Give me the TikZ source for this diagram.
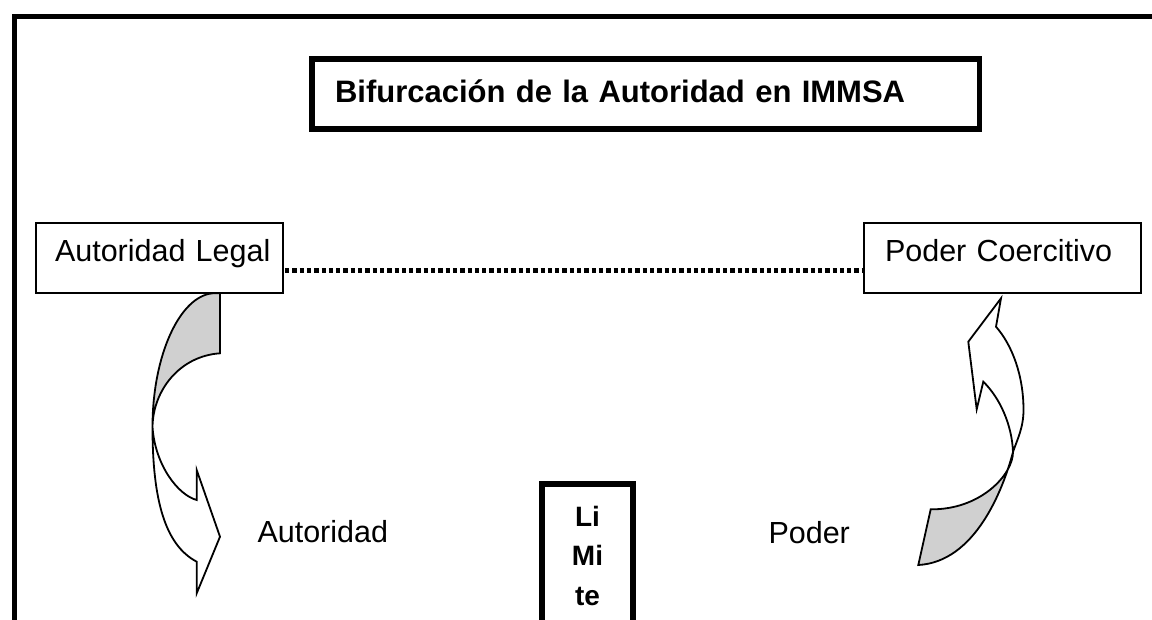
\documentclass[tikz,border=0pt]{standalone}
\usepackage{fontspec}
\setmainfont{Liberation Sans}
\definecolor{backgray}{RGB}{208,208,208}
\begin{document}
\begin{tikzpicture}[x=1pt,y=-1pt,
  frameline/.style={line width=5pt,line join=miter},
  thickbox/.style={draw,line width=5.5pt,inner sep=0pt},
  thinbox/.style={draw,line width=2pt,inner sep=0pt,align=left},
  regtext/.style={font=\fontsize{30.5}{36}\selectfont},
  boldtext/.style={font=\fontsize{31}{37}\selectfont\bfseries},
  dotline/.style={line width=5pt,dash pattern=on 4.3pt off 3pt},
  arrowline/.style={line width=1.8pt,line join=miter}
]
\useasboundingbox (0,0) rectangle (1152,619);
\clip (0,0) rectangle (1152,619);
\fill[white] (0,0) rectangle (1152,619);

% outer frame (right and bottom sides lie outside the picture)
\draw[frameline] (14.5,720) -- (14.5,16.5) -- (1240,16.5);

% title
\node[thickbox,boldtext,text width=667.5pt,text height=43pt,text depth=27pt,align=left]
  (title) at (645.75,94) {\hspace*{23pt}Bifurcación de la Autoridad en IMMSA};

% side boxes
\node[thinbox,regtext,text width=247.3pt,text height=38.3pt,text depth=32pt]
  (legal) at (159.35,257.85) {\hspace*{19.3pt}Autoridad Legal};
\node[thinbox,regtext,text width=277pt,text height=38pt,text depth=32pt]
  (coerc) at (1002.5,258) {\hspace*{21pt}Poder Coercitivo};

% dotted connector
\draw[dotline] ([yshift=-12.15pt,xshift=1pt]legal.east) -- ([yshift=-12pt,xshift=-1pt]coerc.west);

% left curved arrow
\filldraw[arrowline,fill=white]
  (152.5,427) .. controls (152.5,500) and (165,545) .. (196.7,561.7)
  -- (196.7,593.3) -- (220,536.7) -- (196.7,470) -- (196.7,500)
  .. controls (178,495) and (155,465) .. (152.5,427) -- cycle;
\filldraw[arrowline,fill=backgray]
  (212.7,293.3) .. controls (180,296) and (152.5,355) .. (152.5,427)
  .. controls (153,390) and (180,356) .. (220,353.3) -- (220,293.3) -- cycle;

% right curved arrow
\filldraw[arrowline,fill=white]
  (1001,298.3) -- (996,326.7)
  .. controls (1012,345) and (1023.5,375) .. (1023.5,410)
  .. controls (1023.5,428) and (1017,440) .. (1013,452)
  .. controls (1012,425) and (1000,398) .. (983.3,381.7)
  -- (976.7,409.3) -- (968.3,341.7) -- cycle;
\filldraw[arrowline,fill=backgray]
  (1013,452) .. controls (1003,490) and (975,562) .. (918.3,565)
  -- (930.7,509.3) .. controls (980,510) and (1013,475) .. (1013,452) -- cycle;

% lower labels
\node[regtext,anchor=base west,inner sep=0pt] (autoridad) at (257.3,542.7) {Autoridad};
\node[regtext,anchor=base west,inner sep=0pt] (poder) at (768.3,543.3) {Poder};

% limit box
\node[thickbox,anchor=north,font=\fontsize{28}{39.5}\selectfont\bfseries,
  text height=42.3pt,text depth=200pt] (limite) at (587.5,481)
  {\parbox[t]{91pt}{\centering Li\\Mi\\te}};
\end{tikzpicture}
\end{document}
